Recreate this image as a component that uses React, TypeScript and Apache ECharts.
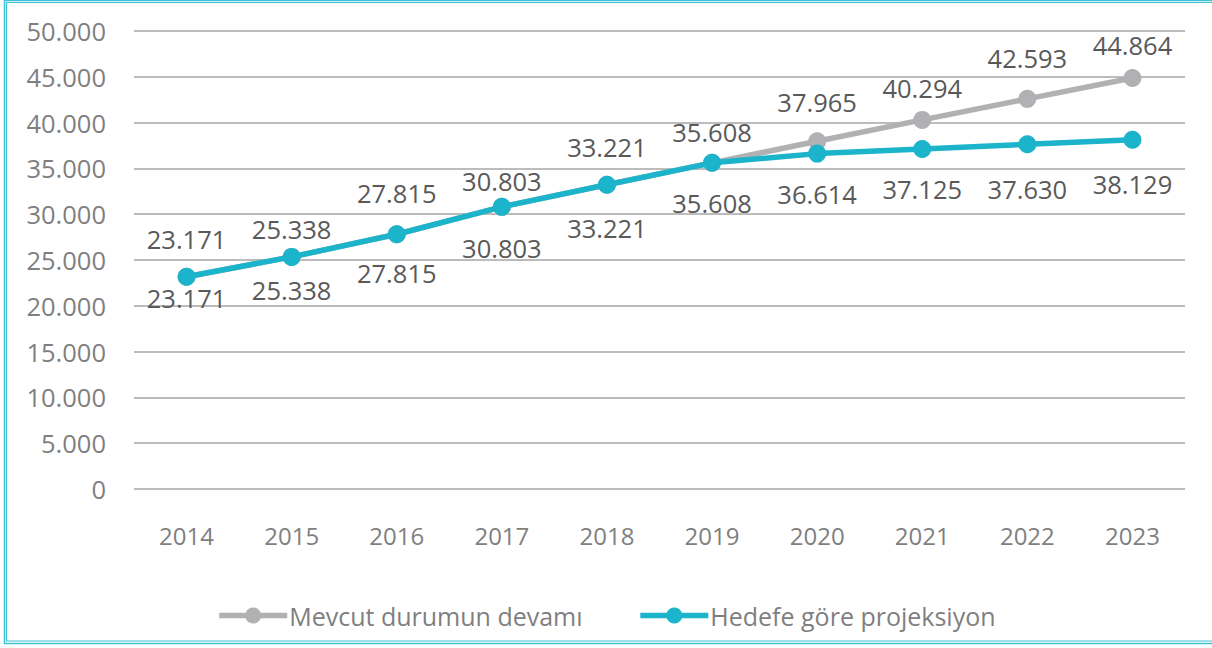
import React, { useEffect, useRef } from "react";
import * as echarts from "echarts";

const years = ["2014", "2015", "2016", "2017", "2018", "2019", "2020", "2021", "2022", "2023"];
const mevcut = [23171, 25338, 27815, 30803, 33221, 35608, 37965, 40294, 42593, 44864];
const hedef = [23171, 25338, 27815, 30803, 33221, 35608, 36614, 37125, 37630, 38129];
const seriesNames = ["Mevcut durumun devamı", "Hedefe göre projeksiyon"];
const yMin = 0;
const yMax = 50000;
const yStep = 5000;

// label placement (pixels from point centre) – layout only
const grayLabelDy = [38, 28, 41, 26, 38, 31, 39, 32, 41, 33];
const cyanLabelDy = [21, 33, 39, 41, 43, 40, 40, 40, 45, 44];

const fmt = (v: number) => {
  if (v === 0) return "0";
  const th = Math.floor(v / 1000);
  const rest = String(Math.round(v % 1000)).padStart(3, "0");
  return th + "." + rest;
};

const FONT = "'Open Sans', 'Noto Sans', sans-serif";
const GRAY = "#B1B1B4";
const CYAN = "#1BB4CB";

export default function App() {
  const ref = useRef<HTMLDivElement>(null);
  useEffect(() => {
    if (!ref.current) return;
    const chart = echarts.init(ref.current, undefined, { renderer: "svg" });
    chart.setOption({
      animation: false,
      backgroundColor: "#ffffff",
      textStyle: { fontFamily: FONT },
      grid: { left: 134, right: 27, top: 31, bottom: 159, containLabel: false },
      legend: {
        left: "center",
        top: 598,
        itemWidth: 68,
        itemHeight: 20,
        itemGap: 55,
        lineStyle: { width: 5.5 },
        textStyle: { fontFamily: FONT, fontSize: 25, color: "#7F7F7F", padding: [0, 0, 0, -3] },
        data: seriesNames,
      },
      xAxis: {
        type: "category",
        data: years,
        boundaryGap: true,
        axisLine: { show: false },
        axisTick: { show: false },
        axisLabel: { fontFamily: FONT, fontSize: 24, color: "#7F7F7F", margin: 34 },
      },
      yAxis: {
        type: "value",
        min: yMin,
        max: yMax,
        interval: yStep,
        axisLine: { show: false },
        axisTick: { show: false },
        splitLine: { lineStyle: { color: "#A6A6A6", width: 1.5 } },
        axisLabel: { fontFamily: FONT, fontSize: 25.5, color: "#7F7F7F", margin: 28, formatter: (v: number) => fmt(v) },
      },
      graphic: [
        { type: "rect", shape: { x: 4.5, y: 0.5, width: 1230, height: 643 }, style: { fill: "none", stroke: "#3FC3D6", lineWidth: 1.5 }, silent: true, z: 100 },
        { type: "rect", shape: { x: 6.5, y: 2.5, width: 1230, height: 638.5 }, style: { fill: "none", stroke: "#3FC3D6", lineWidth: 1.2 }, silent: true, z: 100 },
      ],
      series: [
        {
          name: seriesNames[0],
          type: "line",
          data: mevcut.map((v, i) => ({ value: v, label: { offset: [0, -grayLabelDy[i]] } })),
          symbol: "circle",
          symbolSize: 18,
          lineStyle: { color: GRAY, width: 5.5 },
          itemStyle: { color: GRAY },
          z: 2,
          label: {
            show: true,
            position: "inside",
            fontFamily: FONT,
            fontSize: 25.5,
            color: "#595959",
            formatter: (p: any) => fmt(p.value),
          },
        },
        {
          name: seriesNames[1],
          type: "line",
          data: hedef.map((v, i) => ({ value: v, label: { offset: [0, cyanLabelDy[i]] } })),
          symbol: "circle",
          symbolSize: 18,
          lineStyle: { color: CYAN, width: 5.5 },
          itemStyle: { color: CYAN },
          z: 3,
          label: {
            show: true,
            position: "inside",
            fontFamily: FONT,
            fontSize: 25.5,
            color: "#595959",
            formatter: (p: any) => fmt(p.value),
          },
        },
      ],
    });
    return () => chart.dispose();
  }, []);
  return (
    <div
      ref={ref}
      style={{ position: "absolute", left: 0, top: 0, width: 1212, height: 648, background: "#fff" }}
    />
  );
}
